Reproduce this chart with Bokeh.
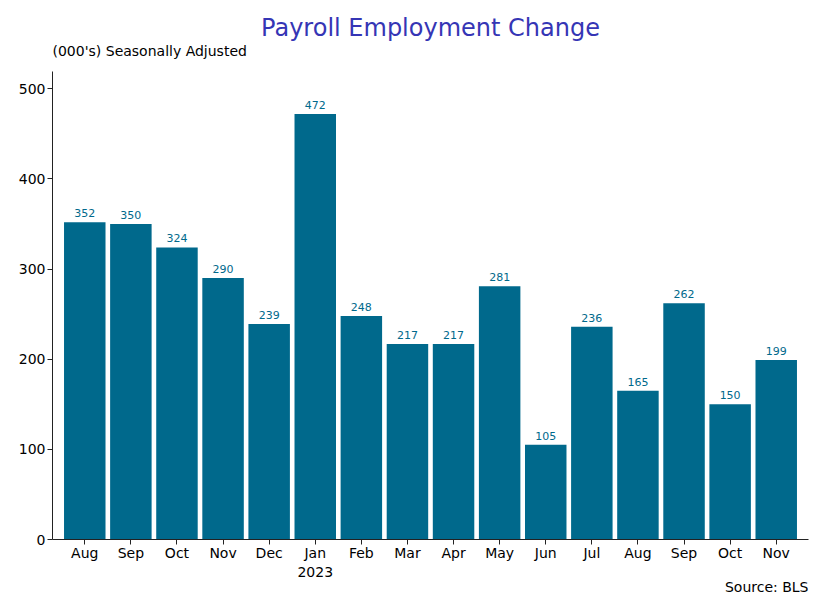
from bokeh.plotting import figure
from bokeh.models import ColumnDataSource, LabelSet, Title, FixedTicker, Range1d
from bokeh.core.properties import value
from bokeh.embed import file_html
from bokeh.resources import INLINE

months = ["Aug", "Sep", "Oct", "Nov", "Dec", "Jan\n2023", "Feb", "Mar", "Apr",
          "May", "Jun", "Jul", "Aug", "Sep", "Oct", "Nov"]
values = [352, 350, 324, 290, 239, 472, 248, 217, 217, 281, 105, 236, 165, 262, 150, 199]
yticks = [0, 100, 200, 300, 400, 500]

xs = list(range(len(values)))
src = ColumnDataSource(dict(x=xs, top=values, lab=[str(v) for v in values]))

BAR = "#00698C"
FONT = "DejaVu Sans"

W, H = 820, 610
p = figure(width=W, height=H, output_backend="svg", toolbar_location=None,
           x_range=Range1d(-0.7, 15.7), y_range=Range1d(0, max(values) * 1.1),
           min_border_left=52, min_border_right=W - 808, min_border_top=71,
           min_border_bottom=H - 539)
p.outline_line_color = None
p.xgrid.visible = False
p.ygrid.visible = False
p.background_fill_color = "white"
p.border_fill_color = "white"

p.vbar(x="x", top="top", width=0.9, source=src, color=BAR, line_color=None)

labels = LabelSet(x="x", y="top", text="lab", source=src, text_align="center",
                  text_baseline="bottom", y_offset=5, text_font_size=value("11px"),
                  text_color=value(BAR), text_font=value(FONT))
p.add_layout(labels)

for ax in (p.xaxis[0], p.yaxis[0]):
    ax.axis_line_color = "#222222"
    ax.major_tick_line_color = "#222222"
    ax.minor_tick_line_color = None
    ax.major_tick_out = 5
    ax.major_tick_in = 0
    ax.major_label_text_font = FONT
    ax.major_label_text_font_size = "14px"
    ax.major_label_text_color = "black"
    ax.major_label_standoff = 2
p.xaxis[0].major_label_standoff = 0

p.xaxis.ticker = FixedTicker(ticks=xs)
p.xaxis.major_label_overrides = {i: m for i, m in enumerate(months)}
p.yaxis.ticker = FixedTicker(ticks=yticks)

p.title.text = "Payroll Employment Change"
p.title.align = "center"
p.title.text_font = FONT
p.title.text_font_size = "24px"
p.title.text_font_style = "normal"
p.title.text_color = "#3535B5"
p.title.standoff = -28

p.add_layout(Title(text="(000's) Seasonally Adjusted", align="left", text_font=FONT,
                   text_font_size="14px", text_font_style="normal",
                   text_color="black", standoff=26), "above")
p.add_layout(Title(text="Source: BLS", align="right", text_font=FONT,
                   text_font_size="14px", text_font_style="normal",
                   text_color="black", standoff=-12), "below")

open("out.html", "w").write(file_html(p, INLINE))
